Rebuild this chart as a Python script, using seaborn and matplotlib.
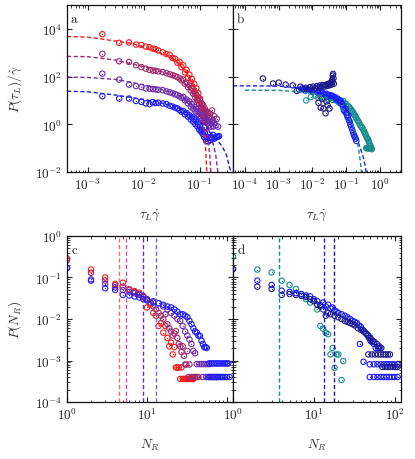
import matplotlib
matplotlib.use("Agg")
import matplotlib.pyplot as plt
import matplotlib.ticker as mticker
import pandas as pd
import seaborn as sns

# colours
c_red = "#f51a1a"
c_mag = "#a0286e"
c_pur = "#6e2cb0"
c_blu = "#1c1cf5"
c_navy = "#1a1a8c"
c_teal = "#178c8c"

# ---------------- panel a : P(tau_L)/gamma_dot vs tau_L gamma_dot ----------------
x_a = [0.0018, 0.0036, 0.0054, 0.0072, 0.009, 0.0108, 0.0126, 0.0144, 0.0162, 0.018,
       0.0216, 0.0252, 0.0288, 0.0324, 0.036, 0.0396, 0.0432, 0.0468, 0.0504, 0.054,
       0.0576, 0.0612, 0.0648, 0.0684, 0.072, 0.0756, 0.0792, 0.0828, 0.0864, 0.09,
       0.0936, 0.0972, 0.1008, 0.1044, 0.108, 0.1116, 0.1152, 0.1188, 0.1224, 0.126]
x_a_tail = [0.13, 0.135, 0.14, 0.146, 0.152, 0.158, 0.165, 0.172, 0.18, 0.19, 0.2, 0.21, 0.22]

red_a = [6000, 2600, 2700, 2200, 2100, 1800, 1700, 1500, 1400, 1250,
         1050, 880, 820, 600, 560, 380, 420, 250, 300, 150,
         190, 90, 120, 55, 80, 30, 50, 18, 32, 11,
         20, 7, 12, 4.5, 7, 2.8, 4, 1.8, 2.2, 1.2]
mag_a = [900, 440, 410, 300, 250, 215, 190, 180, 175, 165,
         155, 140, 125, 115, 105, 95, 85, 70, 75, 50,
         55, 36, 42, 26, 32, 19, 24, 13, 17, 10,
         13, 7.5, 10, 5.5, 7.5, 4.5, 6, 3.5, 4.5, 3]
mag_a_tail = [3.5, 2.4, 3.0, 2.0, 2.8, 1.7, 3.8, 1.5, 2.2]
pur_a = [133, 75, 46, 40, 36, 32, 31, 30, 29, 28,
         27, 24, 22, 20, 18, 17, 15, 13, 14, 10,
         11, 7.5, 9, 5.5, 7, 4.5, 5.5, 3.5, 4.5, 2.8,
         3.6, 2.3, 3, 1.9, 2.5, 1.6, 2.2, 1.4, 1.9, 1.3]
pur_a_tail = [1.6, 1.1, 1.5, 0.9, 1.3, 0.8, 1.2, 0.8, 1.1, 0.9, 1.7, 0.8]
blu_a = [15, 12, 12, 9.5, 8.7, 7.5, 7, 8.5, 7.8, 8,
         7.5, 7, 6, 5.5, 5, 4.6, 4, 3.4, 3.6, 2.6,
         3, 2.1, 2.4, 1.6, 2, 1.3, 1.6, 1.0, 1.3, 0.8,
         1.0, 0.6, 0.8, 0.5, 0.6, 0.4, 0.5, 0.3, 0.45, 0.25]
blu_a_tail = [0.2, 0.3, 0.19, 0.28, 0.22, 0.3, 0.26, 0.36, 0.25, 0.28, 0.3, 0.3, 0.32]

red_fit_x = [4.2e-4, 1e-3, 1.6e-3, 3e-3, 6.3e-3, 0.01, 0.025, 0.04, 0.06, 0.08, 0.1, 0.11, 0.117, 0.125, 0.133]
red_fit_y = [4800, 4500, 3900, 3100, 2400, 1700, 800, 400, 130, 35, 7, 2.8, 1.0, 0.15, 0.01]
mag_fit_x = [4.2e-4, 1e-3, 3e-3, 0.01, 0.02, 0.04, 0.06, 0.08, 0.1, 0.12, 0.135, 0.15, 0.157]
mag_fit_y = [700, 680, 500, 260, 165, 95, 42, 17, 6, 1.8, 0.45, 0.05, 0.01]
pur_fit_x = [4.2e-4, 1e-3, 3.3e-3, 0.01, 0.02, 0.04, 0.06, 0.08, 0.1, 0.13, 0.16, 0.19, 0.21]
pur_fit_y = [95, 92, 75, 45, 30, 17, 10, 5.5, 3, 1, 0.3, 0.06, 0.01]
blu_fit_x = [4.2e-4, 1e-3, 3e-3, 0.01, 0.02, 0.04, 0.06, 0.08, 0.1, 0.13, 0.16, 0.19, 0.25, 0.3, 0.34, 0.36]
blu_fit_y = [24.5, 23, 17, 11, 8, 5, 3.2, 2, 1.3, 0.75, 0.42, 0.26, 0.12, 0.05, 0.015, 0.01]

# ---------------- panel b ----------------
navy_b_x = [3.4e-4, 6.8e-4, 1.0e-3, 1.6e-3, 2.6e-3, 3.4e-3, 4.4e-3, 5.4e-3, 6.4e-3, 7.4e-3,
            8.4e-3, 9.4e-3, 0.0105, 0.012, 0.0135, 0.015, 0.0165, 0.018, 0.02, 0.022,
            0.024, 0.026, 0.028, 0.03, 0.032, 0.034, 0.036, 0.037, 0.038, 0.039,
            0.04, 0.041, 0.042, 0.043, 0.015, 0.0175, 0.021, 0.0245, 0.028, 0.032, 0.019, 0.026]
navy_b_y = [83, 51, 56, 46, 43, 25, 38, 30, 34, 28,
            36, 30, 38, 33, 40, 35, 42, 37, 44, 38,
            45, 40, 48, 42, 52, 45, 58, 48, 70, 60,
            110, 130, 85, 50, 8, 5, 4.6, 2.9, 6.3, 4.6, 12, 9]
blu_b_x = [0.004, 0.005, 0.006, 0.007, 0.008, 0.009, 0.01, 0.012, 0.014, 0.016,
           0.018, 0.02, 0.023, 0.026, 0.029, 0.032, 0.035, 0.038, 0.042, 0.046,
           0.05, 0.055, 0.06, 0.065, 0.07, 0.075, 0.08, 0.085, 0.09, 0.095,
           0.1, 0.105, 0.11, 0.115, 0.12, 0.126, 0.132, 0.14, 0.15, 0.16,
           0.17, 0.18, 0.19, 0.2]
blu_b_y = [28, 32, 26, 30, 27, 28, 24, 26, 22, 24,
           20, 21, 18, 19, 16, 17, 15, 16, 13, 14,
           11, 12, 9, 10, 9, 7, 5.5, 4, 3.5, 4.5,
           3, 2.5, 2, 2.4, 1.5, 1.3, 1.0, 0.8, 0.6, 0.45,
           0.35, 0.3, 0.25, 0.2]
teal_b_x = [0.0065, 0.009, 0.012, 0.015, 0.018, 0.022, 0.026, 0.03, 0.035, 0.04,
            0.045, 0.05, 0.056, 0.062, 0.068, 0.075, 0.082, 0.09, 0.1, 0.11,
            0.12, 0.13, 0.14, 0.15, 0.16, 0.17, 0.18, 0.19, 0.2, 0.215,
            0.23, 0.245, 0.26, 0.28, 0.3, 0.32, 0.34, 0.36, 0.38, 0.4,
            0.42, 0.44, 0.46, 0.48, 0.5, 0.53, 0.56, 0.39, 0.41, 0.43,
            0.45, 0.47, 0.49, 0.51, 0.54, 0.57]
teal_b_y = [10, 14, 16, 13, 15, 12, 14, 11, 13, 10.5,
            12, 10, 11, 9, 10, 8.5, 9.5, 7.5, 7, 6,
            5.5, 4.6, 4.2, 3.5, 3.2, 2.6, 2.4, 2, 1.8, 1.5,
            1.3, 1.1, 0.9, 0.8, 0.7, 0.6, 0.5, 0.42, 0.35, 0.3,
            0.26, 0.24, 0.2, 0.17, 0.14, 0.12, 0.1, 0.1, 0.1, 0.1,
            0.1, 0.1, 0.1, 0.1, 0.1, 0.09]
blu_bfit_x = [4.4e-5, 1e-4, 1e-3, 4e-3, 0.01, 0.02, 0.04, 0.07, 0.1, 0.158, 0.22, 0.31, 0.36, 0.39]
blu_bfit_y = [41, 41, 40, 34, 27, 20, 12, 5.5, 2.5, 0.6, 0.2, 0.05, 0.02, 0.01]
teal_bfit_x = [1e-4, 1e-3, 4e-3, 0.01, 0.02, 0.04, 0.07, 0.1, 0.158, 0.2, 0.24, 0.27, 0.28]
teal_bfit_y = [27, 26.5, 23, 20, 15, 10, 5, 3, 0.93, 0.3, 0.07, 0.02, 0.01]

# ---------------- panel c : P(N_R) ----------------
red_c_n = [1, 2, 3, 4, 5, 6, 7, 8, 9, 10, 11, 12, 13, 14, 15, 16, 17, 18, 19, 20,
           21, 22, 23, 24, 25, 26, 27, 28, 29, 30, 31, 32, 33, 34, 35, 36, 37, 38]
red_c_p = [0.29, 0.155, 0.1, 0.07, 0.075, 0.052, 0.047, 0.043, 0.036, 0.019,
           0.022, 0.014, 0.012, 0.0068, 0.008, 0.0047, 0.0068, 0.0035, 0.0022, 0.0027,
           0.0014, 0.0021, 0.00068, 0.00068, 0.00068, 0.00036, 0.00068, 0.00036, 0.00036, 0.00036,
           0.00036, 0.00036, 0.00036, 0.00036, 0.00036, 0.00036, 0.00036, 0.00036]
mag_c_n = [1, 2, 3, 4, 5, 6, 7, 8, 9, 10, 11, 12, 13, 14, 15, 16, 17, 18, 19, 20,
           21, 22, 23, 24, 25, 26, 27, 28, 29, 30, 31, 32, 33, 34, 36, 38, 40, 42, 44]
mag_c_p = [0.26, 0.13, 0.085, 0.065, 0.06, 0.05, 0.045, 0.04, 0.035, 0.03,
           0.025, 0.02, 0.017, 0.014, 0.012, 0.01, 0.013, 0.0075, 0.006, 0.005,
           0.004, 0.0045, 0.0051, 0.0035, 0.0025, 0.0022, 0.0016, 0.0022, 0.0013, 0.0008,
           0.0008, 0.0017, 0.0004, 0.0008, 0.0004, 0.0004, 0.0004, 0.0004, 0.0004]
pur_c_n = [1, 2, 3, 4, 5, 6, 7, 8, 9, 10, 12, 14, 16, 18, 20, 22, 24, 26, 28, 30,
           32, 34, 36, 38, 40, 42, 45, 48, 51, 54, 57, 60, 50, 55, 60, 65, 70, 75]
pur_c_p = [0.17, 0.09, 0.07, 0.058, 0.05, 0.045, 0.042, 0.038, 0.034, 0.03,
           0.027, 0.024, 0.02, 0.017, 0.014, 0.012, 0.01, 0.009, 0.0068, 0.005,
           0.004, 0.0032, 0.0025, 0.0017, 0.0015, 0.00082, 0.00082, 0.00082, 0.00082, 0.00082,
           0.00082, 0.00082, 0.0004, 0.0004, 0.0004, 0.0004, 0.0004, 0.0004]
blu_c_n = [1, 2, 3, 4, 5, 6, 7, 8, 9, 10, 12, 14, 16, 18, 20, 22, 24, 26, 28, 30,
           32, 34, 36, 38, 40, 42, 44, 46, 48, 50, 52, 54, 56,
           60, 64, 68, 72, 76, 80, 85, 90, 95, 100, 104,
           58, 62, 66, 70, 74, 78, 82, 86, 90, 95, 100, 108]
blu_c_p = [0.17, 0.084, 0.055, 0.05, 0.038, 0.037, 0.035, 0.033, 0.03, 0.028,
           0.025, 0.024, 0.022, 0.02, 0.019, 0.017, 0.015, 0.013, 0.013, 0.012,
           0.011, 0.009, 0.0075, 0.006, 0.005, 0.0047, 0.004, 0.0039, 0.003, 0.0025,
           0.0021, 0.0021, 0.002,
           0.00085, 0.00085, 0.00085, 0.00085, 0.00085, 0.00085, 0.00085, 0.00085, 0.00085, 0.00085, 0.00085,
           0.0004, 0.0004, 0.0004, 0.0004, 0.0004, 0.0004, 0.0004, 0.0004, 0.0004, 0.0004, 0.0004, 0.0004]
mean_c = [4.47, 5.46, 9.0, 12.9]

# ---------------- panel d ----------------
teal_d_n = [1, 2, 3, 4, 5, 6, 7, 8, 9, 10, 11, 12, 13, 14, 15, 16, 17, 18, 19, 20, 22, 23]
teal_d_p = [0.32, 0.155, 0.133, 0.084, 0.066, 0.053, 0.039, 0.03, 0.025, 0.027,
            0.017, 0.0068, 0.0058, 0.0047, 0.0043, 0.0014, 0.002, 0.00067, 0.0014, 0.0014,
            0.00034, 0.00097]
blu_d_n = [1, 2, 3, 4, 5, 6, 7, 8, 9, 10, 11, 12, 13, 14, 15, 16, 17, 18, 19, 20,
           22, 24, 26, 28, 30, 32, 34, 36, 38, 40, 42, 44, 46, 48, 50, 52, 55, 58, 62, 65,
           37, 41, 49, 55, 61, 67, 73, 79, 85, 92, 99, 108,
           49, 55, 61, 67, 73, 79, 85, 92, 99, 108]
blu_d_p = [0.16, 0.084, 0.066, 0.048, 0.045, 0.042, 0.04, 0.037, 0.035, 0.03,
           0.027, 0.022, 0.025, 0.02, 0.022, 0.018, 0.019, 0.016, 0.015, 0.014,
           0.013, 0.012, 0.011, 0.01, 0.009, 0.0085, 0.008, 0.007, 0.0065, 0.0055,
           0.005, 0.0045, 0.004, 0.0035, 0.003, 0.0028, 0.0025, 0.002, 0.002, 0.002,
           0.0025, 0.00093, 0.00081, 0.00081, 0.00081, 0.00081, 0.00081, 0.00081, 0.00081, 0.00081, 0.00081, 0.00081,
           0.0004, 0.0004, 0.0004, 0.0004, 0.0004, 0.0004, 0.0004, 0.0004, 0.0004, 0.0004]
navy_d_n = [1, 2, 3, 4, 5, 6, 7, 8, 9, 10, 11, 12, 13, 14, 15, 16, 18, 20, 22, 24,
            26, 28, 30, 32, 35, 38, 41, 44, 47, 50, 53, 56, 60, 64, 68,
            47, 52, 57, 62, 67, 72, 77, 82, 87, 70, 76, 82, 88, 95, 102, 108]
navy_d_p = [0.16, 0.06, 0.053, 0.038, 0.04, 0.038, 0.036, 0.034, 0.03, 0.027,
            0.022, 0.02, 0.017, 0.012, 0.014, 0.013, 0.012, 0.011, 0.01, 0.009,
            0.0085, 0.008, 0.0075, 0.007, 0.006, 0.0055, 0.005, 0.0045, 0.004, 0.0035,
            0.003, 0.0028, 0.0025, 0.0022, 0.002,
            0.0014, 0.0014, 0.0014, 0.0014, 0.0014, 0.0014, 0.0014, 0.0014, 0.0014,
            0.0007, 0.0007, 0.0007, 0.0007, 0.0007, 0.0007, 0.0007]
mean_d = [3.68, 13.5, 17.5]

# ---------------- style ----------------
sns.set_style("ticks")
plt.rcParams.update({
    "font.family": "serif",
    "font.serif": ["cmr10", "DejaVu Serif"],
    "mathtext.fontset": "cm",
    "axes.formatter.use_mathtext": True,
    "font.size": 9.5,
    "axes.linewidth": 0.9,
    "xtick.direction": "in",
    "ytick.direction": "in",
    "xtick.top": True,
    "ytick.right": True,
    "xtick.major.size": 3.5,
    "ytick.major.size": 3.5,
    "xtick.minor.size": 1.8,
    "ytick.minor.size": 1.8,
    "xtick.major.width": 0.8,
    "ytick.major.width": 0.8,
    "xtick.minor.width": 0.6,
    "ytick.minor.width": 0.6,
    "xtick.color": "#222222",
    "ytick.color": "#222222",
    "axes.edgecolor": "#111111",
    "text.color": "#222222",
})


def draw_points(ax, x, y, color):
    df = pd.DataFrame({"x": x, "y": y})
    sns.scatterplot(data=df, x="x", y="y", ax=ax, marker="o", s=15,
                    facecolors="none", edgecolor=color, linewidth=0.8)
    sns.scatterplot(data=df, x="x", y="y", ax=ax, marker="o", s=0.8,
                    color=color, linewidth=0)


def draw_fit(ax, x, y, color):
    df = pd.DataFrame({"x": x, "y": y})
    sns.lineplot(data=df, x="x", y="y", ax=ax, color=color, linewidth=1.0,
                 linestyle=(0, (3, 1.8)), sort=False, estimator=None)


fig = plt.figure(figsize=(4.15, 4.6), dpi=100)
ax_a = fig.add_axes([0.1614, 0.6239, 0.4, 0.3630])
ax_b = fig.add_axes([0.5614, 0.6239, 0.4048, 0.3630])
ax_c = fig.add_axes([0.1614, 0.1239, 0.4, 0.3609])
ax_d = fig.add_axes([0.5614, 0.1239, 0.4048, 0.3609])

# panel a
draw_fit(ax_a, red_fit_x, red_fit_y, c_red)
draw_fit(ax_a, mag_fit_x, mag_fit_y, c_mag)
draw_fit(ax_a, pur_fit_x, pur_fit_y, c_pur)
draw_fit(ax_a, blu_fit_x, blu_fit_y, c_blu)
draw_points(ax_a, x_a, red_a, c_red)
draw_points(ax_a, x_a + x_a_tail[:len(mag_a_tail)], mag_a + mag_a_tail, c_mag)
draw_points(ax_a, x_a + x_a_tail[:len(pur_a_tail)], pur_a + pur_a_tail, c_pur)
draw_points(ax_a, x_a + x_a_tail, blu_a + blu_a_tail, c_blu)

# panel b
draw_fit(ax_b, blu_bfit_x, blu_bfit_y, c_blu)
draw_fit(ax_b, teal_bfit_x, teal_bfit_y, c_teal)
draw_points(ax_b, teal_b_x, teal_b_y, c_teal)
draw_points(ax_b, blu_b_x, blu_b_y, c_blu)
draw_points(ax_b, navy_b_x, navy_b_y, c_navy)

# panel c
for xv, col in zip(mean_c, ["#f86a6a", "#c05a98", c_pur, "#6a6af8"]):
    ax_c.axvline(xv, color=col, linewidth=1.0, linestyle=(0, (3, 1.8)))
draw_points(ax_c, red_c_n, red_c_p, c_red)
draw_points(ax_c, mag_c_n, mag_c_p, c_mag)
draw_points(ax_c, pur_c_n, pur_c_p, c_pur)
draw_points(ax_c, blu_c_n, blu_c_p, c_blu)

# panel d
for xv, col in zip(mean_d, [c_teal, c_blu, c_navy]):
    ax_d.axvline(xv, color=col, linewidth=1.0, linestyle=(0, (3, 1.8)))
draw_points(ax_d, teal_d_n, teal_d_p, c_teal)
draw_points(ax_d, blu_d_n, blu_d_p, c_blu)
draw_points(ax_d, navy_d_n, navy_d_p, c_navy)

for ax in [ax_a, ax_b, ax_c, ax_d]:
    ax.set_xscale("log")
    ax.set_yscale("log")
    ax.set_xlabel("")
    ax.set_ylabel("")
    ax.xaxis.set_major_locator(mticker.LogLocator(base=10, numticks=12))
    ax.xaxis.set_minor_locator(mticker.LogLocator(base=10, subs=range(2, 10), numticks=12))
    ax.xaxis.set_minor_formatter(mticker.NullFormatter())

ax_a.set_xlim(4.2e-4, 0.39)
ax_b.set_xlim(4.4e-5, 4.2)
for ax in [ax_a, ax_b]:
    ax.set_ylim(1e-2, 1e5)
    ax.yaxis.set_major_locator(mticker.FixedLocator([1e-2, 1e0, 1e2, 1e4]))
    ax.yaxis.set_minor_locator(mticker.NullLocator())
ax_b.set_yticklabels([])

for ax in [ax_c, ax_d]:
    ax.set_xlim(1, 119)
    ax.set_ylim(1e-4, 1)
    ax.yaxis.set_major_locator(mticker.LogLocator(base=10, numticks=10))
    ax.yaxis.set_minor_locator(mticker.LogLocator(base=10, subs=range(2, 10), numticks=10))
ax_d.set_yticklabels([])
ax_c.set_xticks([1, 10, 100], labels=[r"$10^{0}$", r"$10^{1}$", ""])

ax_a.set_ylabel(r"$P(\tau_L)/\dot{\gamma}$")
ax_a.set_xlabel(r"$\tau_L\dot{\gamma}$")
ax_b.set_xlabel(r"$\tau_L\dot{\gamma}$")
ax_c.set_ylabel(r"$P(N_R)$")
ax_c.set_xlabel(r"$N_R$")
ax_d.set_xlabel(r"$N_R$")
for ax in [ax_a, ax_b, ax_c, ax_d]:
    ax.xaxis.set_label_coords(0.5, -0.21)
ax_a.yaxis.set_label_coords(-0.26, 0.5)
ax_c.yaxis.set_label_coords(-0.26, 0.5)

for ax, lab, xp in [(ax_a, "a", 0.02), (ax_b, "b", 0.02), (ax_c, "c", 0.025), (ax_d, "d", 0.025)]:
    ax.text(xp, 0.955, lab, transform=ax.transAxes, ha="left", va="top", fontsize=9.5)

fig.savefig("out.png", dpi=100)
